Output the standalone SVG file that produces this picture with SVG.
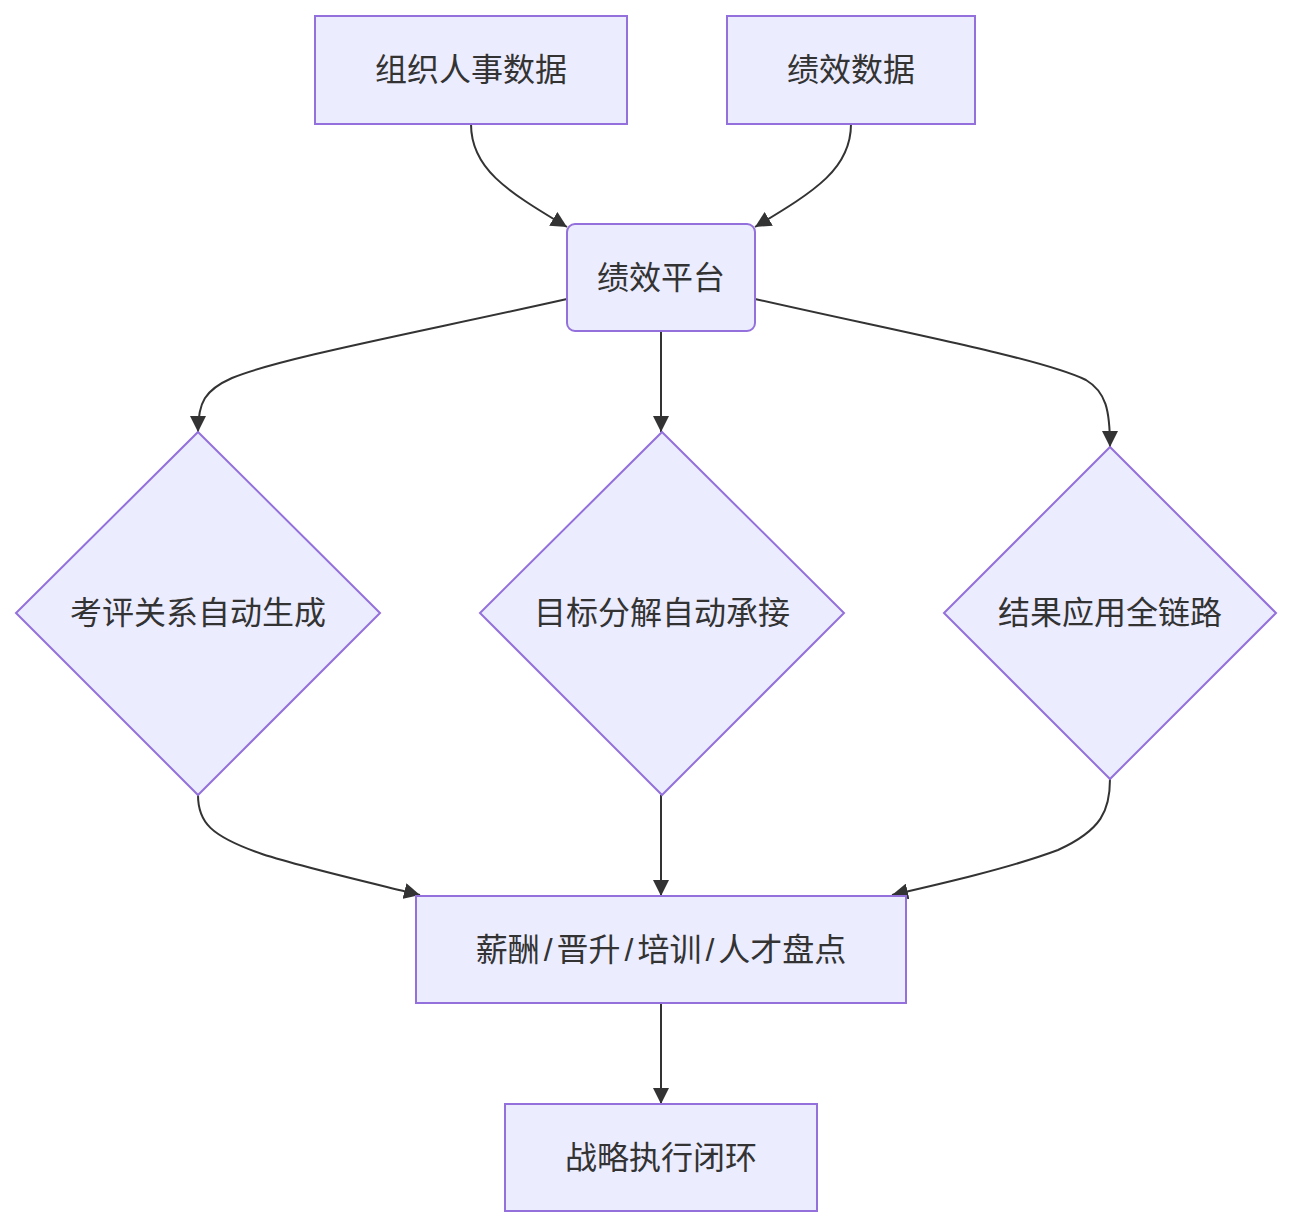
<svg xmlns="http://www.w3.org/2000/svg" width="1292" height="1228" viewBox="0 0 1292 1228">
<style>
.node rect, .node polygon { fill: #ECECFF; stroke: #9370DB; stroke-width: 2; }
.node text { font-family: "Liberation Sans", "Noto Sans CJK SC", sans-serif; font-size: 32px; fill: #333333; text-anchor: middle; dominant-baseline: central; }
.edges path { fill: none; stroke: #333333; stroke-width: 2; marker-end: url(#arrow); }
</style>
<defs>
<marker id="arrow" viewBox="0 0 10 10" refX="10" refY="5" markerWidth="16" markerHeight="16" markerUnits="userSpaceOnUse" orient="auto">
<path d="M0,0 L10,5 L0,10 z" fill="#333333"/>
</marker>
</defs>
<rect width="1292" height="1228" fill="#ffffff"/>
<g class="edges">
<path d="M471,124 C471,168 505,190 567,227"/>
<path d="M851,124 C851,168 817,190 755,227"/>
<path d="M567,299 C420,332 280,358 232,378 C205,390 198,402 198,432"/>
<path d="M661,331 L661,432"/>
<path d="M755,299 C900,332 1040,358 1086,380 C1106,392 1110,410 1110,447"/>
<path d="M198,795 C198,822 210,836 262,854 C305,868 380,885 420,895"/>
<path d="M661,795 L661,896"/>
<path d="M1110,779 C1110,810 1102,830 1058,850 C1010,868 940,884 892,895"/>
<path d="M661,1003 L661,1104"/>
</g>
<g id="nodeA" class="node"><rect x="315" y="16" width="312" height="108"/><text x="471" y="70">组织人事数据</text></g>
<g id="nodeB" class="node"><rect x="727" y="16" width="248" height="108"/><text x="851" y="70">绩效数据</text></g>
<g id="nodeC" class="node"><rect x="567" y="224" width="188" height="107" rx="8" ry="8"/><text x="661" y="278">绩效平台</text></g>
<g id="nodeD1" class="node"><polygon points="198,432 380,613 198,795 16,613"/><text x="198" y="613">考评关系自动生成</text></g>
<g id="nodeD2" class="node"><polygon points="662,432 844,613 662,795 480,613"/><text x="662" y="613">目标分解自动承接</text></g>
<g id="nodeD3" class="node"><polygon points="1110,447 1276,613 1110,779 944,613"/><text x="1110" y="613">结果应用全链路</text></g>
<g id="nodeE" class="node"><rect x="416" y="896" width="490" height="107"/><text x="661" y="950">薪酬<tspan dx="4">/</tspan><tspan dx="4">晋升</tspan><tspan dx="4">/</tspan><tspan dx="4">培训</tspan><tspan dx="4">/</tspan><tspan dx="4">人才盘点</tspan></text></g>
<g id="nodeF" class="node"><rect x="505" y="1104" width="312" height="107"/><text x="661" y="1158">战略执行闭环</text></g>
</svg>
